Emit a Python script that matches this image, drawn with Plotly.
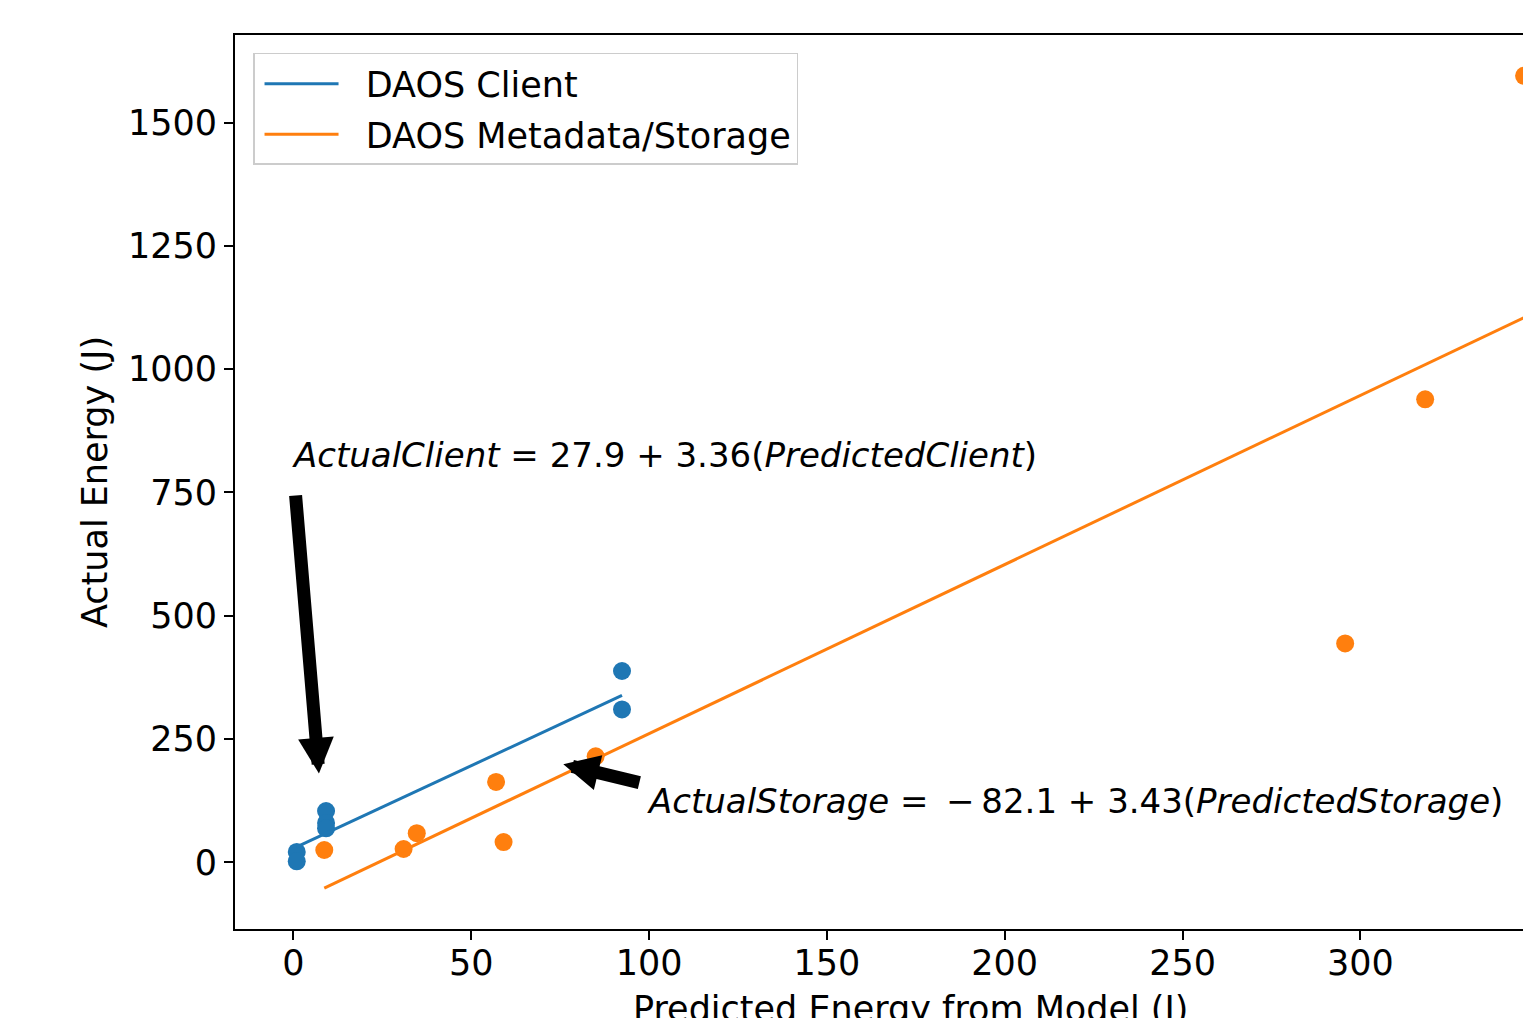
import plotly.graph_objects as go

# Data
client_pred = [0.96, 0.96, 9.2, 9.2, 9.2, 92.4, 92.4]
client_actual = [21, 2, 104, 80, 69, 388, 310]
storage_pred = [8.7, 31.0, 34.7, 57.0, 59.1, 85.0, 295.7, 318.2, 346.0]
storage_actual = [25, 27, 59, 163, 41, 215, 444, 939, 1595]

client_fit = (27.9, 3.36)
storage_fit = (-82.1, 3.43)

x_ticks = [0, 50, 100, 150, 200, 250, 300, 350]
y_ticks = [0, 250, 500, 750, 1000, 1250, 1500]

BLUE = "#1f77b4"
ORANGE = "#ff7f0e"
FONT = "DejaVu Sans"
FS = 35
NB = "\u00a0"

cx = [min(client_pred), max(client_pred)]
cy = [client_fit[0] + client_fit[1] * v for v in cx]
sx = [min(storage_pred), max(storage_pred)]
sy = [storage_fit[0] + storage_fit[1] * v for v in sx]

fig = go.Figure()
fig.add_trace(go.Scatter(x=client_pred, y=client_actual, mode="markers",
                         marker=dict(color=BLUE, size=18), showlegend=False))
fig.add_trace(go.Scatter(x=storage_pred, y=storage_actual, mode="markers",
                         marker=dict(color=ORANGE, size=18), showlegend=False))
fig.add_trace(go.Scatter(x=cx, y=cy, mode="lines", name=NB * 2 + "DAOS Client",
                         line=dict(color=BLUE, width=3), legendgroup="a"))
fig.add_trace(go.Scatter(x=sx, y=sy, mode="lines", name=NB * 2 + "DAOS Metadata/Storage",
                         line=dict(color=ORANGE, width=3), legendgroup="b"))

axis_common = dict(showline=True, linecolor="black", linewidth=2, ticks="outside",
                   ticklen=9, tickwidth=2, tickcolor="black", showgrid=False,
                   zeroline=False, tickfont=dict(family=FONT, size=FS, color="black"))

fig.update_xaxes(range=[-16.4, 345.7], tickvals=x_ticks, mirror=True,
                 ticklabelstandoff=-7, **axis_common)
fig.update_yaxes(range=[-135.2, 1677.7], tickvals=y_ticks, mirror=False,
                 title=dict(text="Actual Energy (J)", font=dict(family=FONT, size=FS, color="black"),
                            standoff=10),
                 **axis_common)

annotations = [
    dict(x=-1.0, y=826, xref="x", yref="y", xanchor="left", yanchor="middle", showarrow=False,
         text="<i>ActualClient</i> = 27.9 + 3.36(<i>PredictedClient</i>)",
         font=dict(family=FONT, size=34, color="black")),
    dict(x=99.0, y=124, xref="x", yref="y", xanchor="left", yanchor="middle", showarrow=False,
         text="<i>ActualStorage</i> = \u2009\u2212\u200982.1 + 3.43(<i>PredictedStorage</i>)",
         font=dict(family=FONT, size=34, color="black")),
    dict(x=7.2, y=180, ax=0.6, ay=747, xref="x", yref="y", axref="x", ayref="y",
         text="", showarrow=True, arrowhead=2, arrowwidth=13, arrowsize=0.55, arrowcolor="black"),
    dict(x=75.9, y=199, ax=97.7, ay=161, xref="x", yref="y", axref="x", ayref="y",
         text="", showarrow=True, arrowhead=2, arrowwidth=13, arrowsize=0.55, arrowcolor="black"),
    dict(x=0.5248, y=-0.065, xref="paper", yref="paper", xanchor="center", yanchor="top",
         showarrow=False, text="Predicted Energy from Model (J)",
         font=dict(family=FONT, size=FS, color="black")),
]

fig.update_layout(
    width=1523, height=1018,
    margin=dict(l=235, r=0, t=35, b=89),
    paper_bgcolor="white", plot_bgcolor="white",
    font=dict(family=FONT, size=FS, color="black"),
    annotations=annotations,
    legend=dict(x=0.014, y=0.98, xanchor="left", yanchor="top",
                bgcolor="white", bordercolor="#cccccc", borderwidth=1.5,
                font=dict(family=FONT, size=FS, color="black"),
                itemwidth=74, tracegroupgap=2, indentation=5),
)

fig.write_html("out.html")
